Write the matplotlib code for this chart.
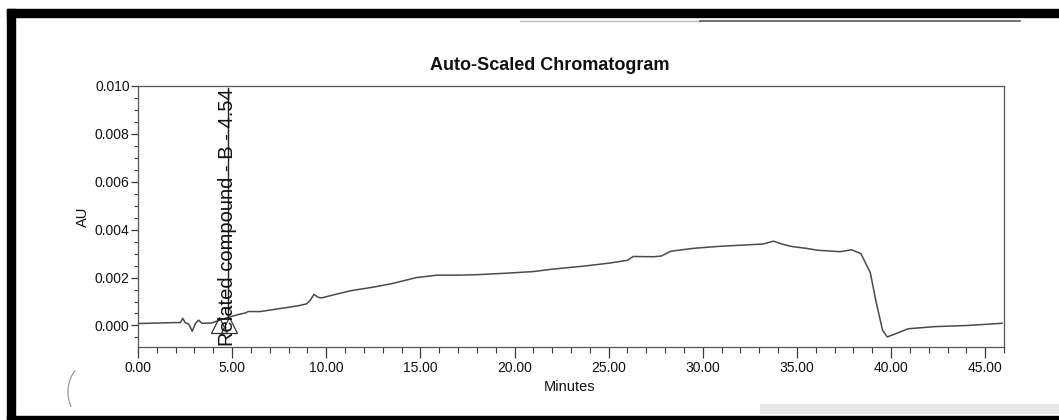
import numpy as np
import matplotlib
matplotlib.use("Agg")
import matplotlib.pyplot as plt
from matplotlib import font_manager
from matplotlib.patches import Rectangle, Arc
from matplotlib.lines import Line2D
from matplotlib.ticker import MultipleLocator, FormatStrFormatter

# ---------------- data ----------------
time_min = [0.0, 1.0, 2.0, 2.25, 2.38, 2.5, 2.7, 2.88, 3.05, 3.22, 3.4, 3.9,
            4.2, 4.54, 4.9, 5.3, 5.7, 5.85, 6.5, 7.5, 8.5, 8.95, 9.15, 9.35,
            9.55, 9.75, 10.5, 11.3, 12.5, 13.5, 14.8, 15.9, 17.0, 18.0, 19.5,
            21.0, 22.0, 23.7, 25.0, 26.0, 26.3, 27.4, 27.8, 28.3, 29.5, 30.8,
            32.0, 33.2, 33.75, 34.2, 34.7, 35.5, 36.1, 37.3, 37.9, 38.4, 38.9,
            39.2, 39.55, 39.8, 40.2, 40.9, 42.3, 44.1, 45.9]
au = [0.00008, 0.0001, 0.00012, 0.00012, 0.00030, 0.00012, 0.00005, -0.00024,
      0.00008, 0.00022, 0.00009, 0.0001, 0.00018, 0.00028, 0.00036, 0.00045,
      0.00052, 0.00058, 0.00058, 0.0007, 0.00082, 0.0009, 0.00105, 0.0013,
      0.00118, 0.00115, 0.0013, 0.00145, 0.0016, 0.00175, 0.002, 0.0021,
      0.0021, 0.00212, 0.00218, 0.00225, 0.00235, 0.00248, 0.0026, 0.00272,
      0.00288, 0.00287, 0.0029, 0.0031, 0.00322, 0.0033, 0.00335, 0.0034,
      0.00352, 0.0034, 0.0033, 0.00322, 0.00314, 0.00308, 0.00316, 0.003,
      0.0022, 0.0010, -0.0002, -0.00048, -0.00036, -0.00014, -0.00005, 0.0,
      0.00009]

peak_name = "Related compound - B"
peak_rt = 4.54
peak_line_x = 4.8          # where the marker line is drawn on the page
peak_start_end = [4.3, 4.85]

title = "Auto-Scaled Chromatogram"
xlabel = "Minutes"
ylabel = "AU"
x_limits = (0.0, 46.0)
y_limits = (-0.0009, 0.010)

# ---------------- fonts ----------------
names = {f.name for f in font_manager.fontManager.ttflist}
if "Liberation Sans Narrow" in names:
    tick_font, tick_size = "Liberation Sans Narrow", 11.5
else:
    tick_font, tick_size = "Liberation Sans", 10
plt.rcParams["font.family"] = ["Liberation Sans", "DejaVu Sans"]

W, H = 1059, 420
fig = plt.figure(figsize=(W / 100, H / 100), dpi=100)
fig.patch.set_facecolor("white")

def fx(px):
    return px / W

def fy(py):
    return 1 - py / H

ax = fig.add_axes([fx(138), fy(347), fx(1004) - fx(138), fy(86) - fy(347)])
ink = "#3a3a3a"
ax.plot(time_min, au, color="#4a4a4a", lw=1.1)

ax.set_xlim(*x_limits)
ax.set_ylim(*y_limits)
ax.xaxis.set_major_locator(MultipleLocator(5))
ax.xaxis.set_minor_locator(MultipleLocator(1))
ax.yaxis.set_major_locator(MultipleLocator(0.002))
ax.yaxis.set_minor_locator(MultipleLocator(0.0005))
ax.xaxis.set_major_formatter(FormatStrFormatter("%.2f"))
ax.yaxis.set_major_formatter(FormatStrFormatter("%.3f"))
ax.tick_params(axis="x", which="major", length=8, width=0.9, color=ink, pad=2)
ax.tick_params(axis="x", which="minor", length=4, width=0.8, color=ink)
ax.tick_params(axis="y", which="major", length=5, width=0.9, color=ink, pad=1)
ax.tick_params(axis="y", which="minor", length=3, width=0.8, color=ink)
for lab in ax.get_xticklabels() + ax.get_yticklabels():
    lab.set_fontfamily(tick_font)
    lab.set_fontsize(tick_size)
    lab.set_color("#111111")
for s in ax.spines.values():
    s.set_color("#555555")
    s.set_linewidth(0.9)

fig.text(fx(83), fy(217), ylabel, rotation=90, ha="center", va="center",
         fontsize=10.5, family=tick_font, color="#111111")
fig.text(fx(570), fy(387), xlabel, ha="center", va="center",
         fontsize=10.5, family=tick_font, color="#111111")
fig.text(fx(550), fy(65), title, ha="center", va="center",
         fontsize=13, fontweight="bold", color="#111111")

# peak annotation
y_at_peak = float(np.interp(peak_line_x, time_min, au))
ax.plot([peak_line_x, peak_line_x], [y_at_peak, 0.0099], color="#222222", lw=1.0)
ax.plot(peak_start_end, [0.00002, 0.00002], ls="none", marker="^", ms=11,
        mfc="none", mec="#333333", mew=0.9)
ax.text(4.74, -0.00085, f"{peak_name} - {peak_rt:.2f}", rotation=90,
        ha="center", va="bottom", fontsize=14.5, color="#111111")

# scanned page frame
fig.patches.append(Rectangle((fx(7), fy(17)), fx(1059) - fx(7), 8 / H,
                             transform=fig.transFigure, color="black"))
fig.patches.append(Rectangle((fx(7), 0), fx(15) - fx(7), fy(9),
                             transform=fig.transFigure, color="black"))
fig.patches.append(Rectangle((fx(7), 0), fx(1059) - fx(7), 4 / H,
                             transform=fig.transFigure, color="black"))
fig.patches.append(Rectangle((fx(760), fy(414)), fx(1059) - fx(760), 10 / H,
                             transform=fig.transFigure, color="#cfcfcf",
                             alpha=0.45, lw=0))
fig.lines.append(Line2D([fx(520), fx(700)], [fy(21), fy(21)],
                        transform=fig.transFigure, color="#bbbbbb", lw=1))
fig.lines.append(Line2D([fx(700), fx(1020)], [fy(21), fy(21)],
                        transform=fig.transFigure, color="#555555", lw=1.2))
fig.patches.append(Arc((fx(85), fy(392)), 34 / W, 52 / H, theta1=100,
                       theta2=250, transform=fig.transFigure,
                       color="#999999", lw=0.9))

fig.savefig("out.png", dpi=100)
